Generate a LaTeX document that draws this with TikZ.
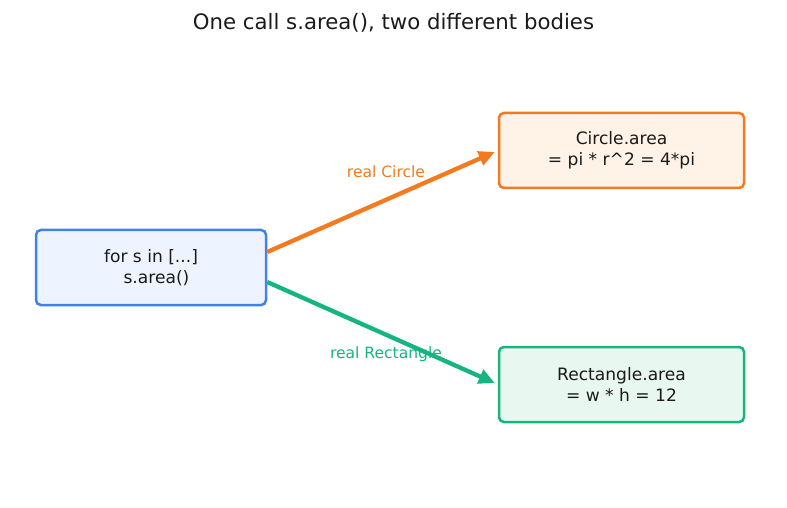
\documentclass[tikz,border=0pt]{standalone}
\usepackage{fontspec}
\setmainfont{DejaVu Sans}
\usetikzlibrary{calc,arrows.meta}
\definecolor{txt}{HTML}{1A1A1A}
\definecolor{bblue}{HTML}{3F83E8}
\definecolor{fblue}{HTML}{EEF4FF}
\definecolor{borange}{HTML}{F47A1F}
\definecolor{forange}{HTML}{FFF3E8}
\definecolor{bgreen}{HTML}{14B57E}
\definecolor{fgreen}{HTML}{E8F8F0}
\tikzset{
  box/.style={draw, line width=1.8pt, rounded corners=3.5pt, minimum width=230*0.72pt, minimum height=75*0.72pt, align=center, text=txt, font=\fontsize{12.3}{14.8}\selectfont, inner sep=0pt},
  conn/.style={line width=3.1pt, -{Triangle[length=11.5pt,width=10.5pt]}},
  lbl/.style={font=\fontsize{11.2}{13}\selectfont}
}
\begin{document}
\begin{tikzpicture}[x=0.72pt,y=-0.72pt]
\useasboundingbox (0,0) rectangle (787,508);
\node[font=\fontsize{15.3}{18}\selectfont, text=txt] (title) at (393.5,23) {One call s.area(), two different bodies};
\node[box, fill=fblue, draw=bblue] (loop) at (151,267.5) {for s in [...]\\ \hspace*{0.636em}s.area()};
\node[box, fill=forange, draw=borange, minimum width=245*0.72pt] (circ) at (621.5,150.5) {Circle.area\\= pi * r\textasciicircum 2 = 4*pi};
\node[box, fill=fgreen, draw=bgreen, minimum width=245*0.72pt] (rect) at (621.5,384.5) {Rectangle.area\\= w * h = 12};
\coordinate (s1) at ($(loop.east)+(0,-15.5)$);
\coordinate (s2) at ($(loop.east)+(0,14.5)$);
\coordinate (e1) at ($(circ.west)+(-3,1.5)$);
\coordinate (e2) at ($(rect.west)+(-3,-1.5)$);
\draw[conn, draw=borange, fill=borange] (s1) -- (e1);
\draw[conn, draw=bgreen, fill=bgreen] (s2) -- (e2);
\node[lbl, text=borange] (l1) at (386,172) {real Circle};
\node[lbl, text=bgreen] (l2) at (386,354) {real Rectangle};
\end{tikzpicture}
\end{document}
